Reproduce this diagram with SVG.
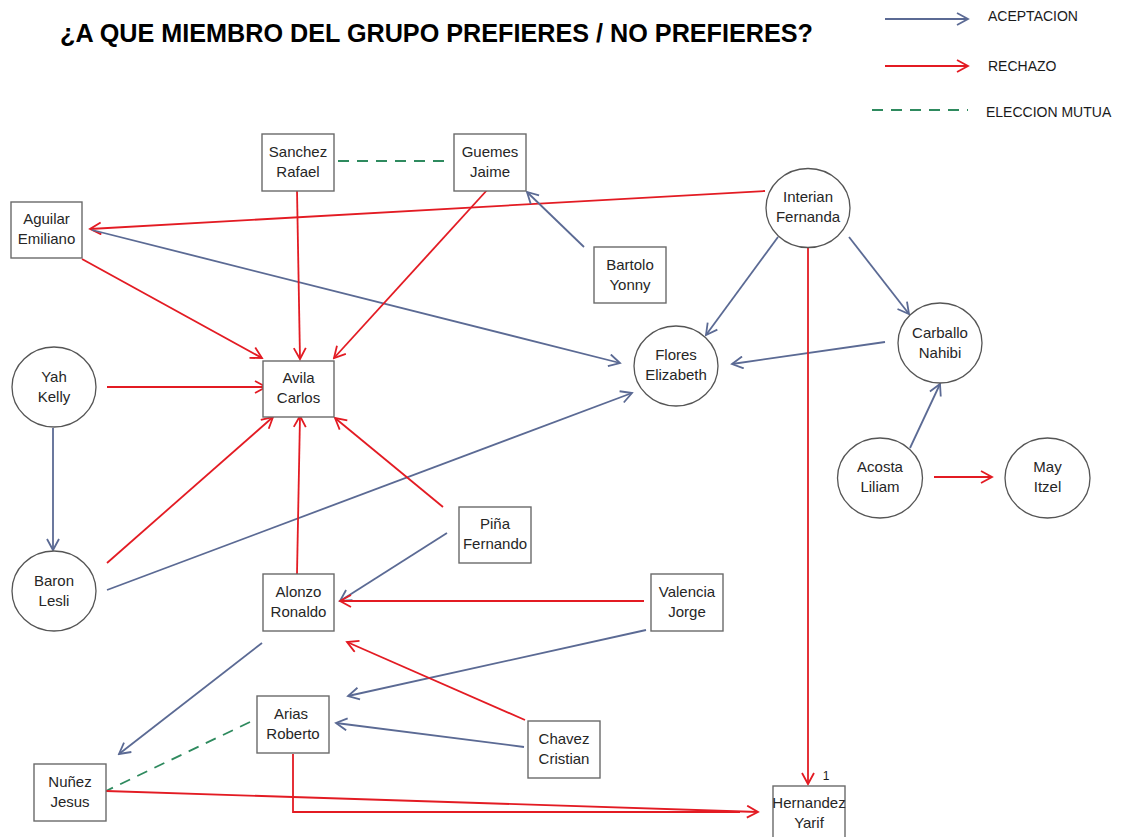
<svg xmlns="http://www.w3.org/2000/svg" width="1122" height="837" viewBox="0 0 1122 837">
<style>
  .box{fill:#fff;stroke:#6a6a6a;stroke-width:1.4}
  .cir{fill:#fff;stroke:#555;stroke-width:1.3}
  .lbl{font-family:"Liberation Sans",Arial,sans-serif;font-size:15px;fill:#262626;text-anchor:middle}
  .leg{font-family:"Liberation Sans",Arial,sans-serif;font-size:14px;fill:#1a1a1a}
  .title{font-family:"Liberation Sans",Arial,sans-serif;font-size:25px;font-weight:bold;fill:#000}
  .acc{stroke:#5b6a94;stroke-width:1.8;fill:none;marker-end:url(#ab)}
  .rej{stroke:#e31b23;stroke-width:1.8;fill:none;marker-end:url(#ar)}
  .rejn{stroke:#e31b23;stroke-width:1.8;fill:none}
  .mut{stroke:#2e8a5e;stroke-width:1.8;fill:none;stroke-dasharray:11 8}
</style>
<defs>
  <marker id="ab" markerUnits="userSpaceOnUse" markerWidth="14" markerHeight="14" refX="12" refY="7" orient="auto">
    <path d="M1,1 L12,7 L1,13" fill="none" stroke="#5b6a94" stroke-width="1.8"/>
  </marker>
  <marker id="ar" markerUnits="userSpaceOnUse" markerWidth="14" markerHeight="14" refX="12" refY="7" orient="auto">
    <path d="M1,1 L12,7 L1,13" fill="none" stroke="#e31b23" stroke-width="1.8"/>
  </marker>
</defs>
<rect width="1122" height="837" fill="#fff"/>

<text class="title" x="60" y="42" textLength="753" lengthAdjust="spacingAndGlyphs">¿A QUE MIEMBRO DEL GRUPO PREFIERES / NO PREFIERES?</text>

<g id="legend">
  <line class="acc" x1="885" y1="19" x2="968" y2="19"/>
  <text class="leg" x="988" y="21">ACEPTACION</text>
  <line class="rej" x1="885" y1="66" x2="968" y2="66"/>
  <text class="leg" x="988" y="71">RECHAZO</text>
  <line class="mut" x1="872" y1="110" x2="968" y2="110"/>
  <text class="leg" x="986" y="117">ELECCION MUTUA</text>
</g>

<g id="connectors">
  <line class="mut" x1="338" y1="161" x2="447" y2="161"/>
  <line class="rej" x1="765" y1="191" x2="90" y2="229"/>
  <line class="acc" x1="92" y1="230" x2="620" y2="363"/>
  <line class="rej" x1="297" y1="190" x2="300" y2="359"/>
  <line class="rej" x1="488" y1="189" x2="334" y2="358"/>
  <line class="rej" x1="82" y1="259" x2="262" y2="358"/>
  <line class="acc" x1="584" y1="247" x2="527" y2="192"/>
  <line class="acc" x1="778" y1="237" x2="706" y2="335"/>
  <line class="acc" x1="849" y1="237" x2="909" y2="314"/>
  <line class="acc" x1="885" y1="342" x2="732" y2="364"/>
  <line class="rej" x1="808" y1="248" x2="808" y2="784"/>
  <line class="acc" x1="910" y1="448" x2="940" y2="384"/>
  <line class="rej" x1="934" y1="477" x2="992" y2="477"/>
  <line class="rej" x1="107" y1="387" x2="266" y2="387"/>
  <line class="acc" x1="53" y1="428" x2="53" y2="550"/>
  <line class="rej" x1="107" y1="563" x2="273" y2="417"/>
  <line class="acc" x1="107" y1="590" x2="632" y2="393"/>
  <line class="rej" x1="297" y1="574" x2="300" y2="416"/>
  <line class="rej" x1="443" y1="507" x2="335" y2="418"/>
  <line class="acc" x1="447" y1="533" x2="340" y2="601"/>
  <line class="rej" x1="644" y1="601" x2="340" y2="601"/>
  <line class="acc" x1="646" y1="630" x2="348" y2="696"/>
  <line class="rej" x1="525" y1="720" x2="347" y2="642"/>
  <line class="acc" x1="524" y1="747" x2="336" y2="723"/>
  <line class="acc" x1="262" y1="643" x2="119" y2="754"/>
  <line class="mut" x1="250" y1="722" x2="106" y2="791"/>
  <polyline class="rejn" points="293,754 293,812 740,812"/>
  <line class="rej" x1="106" y1="791" x2="758" y2="812"/>
  <text class="leg" x="826" y="780" text-anchor="middle" style="font-size:12px">1</text>
</g>

<g id="n-sanchez"><rect class="box" x="262" y="134" width="72" height="57"/><text class="lbl" x="298" y="157">Sanchez</text><text class="lbl" x="298" y="177">Rafael</text></g>
<g id="n-guemes"><rect class="box" x="454" y="134" width="72" height="57"/><text class="lbl" x="490" y="157">Guemes</text><text class="lbl" x="490" y="177">Jaime</text></g>
<g id="n-bartolo"><rect class="box" x="594" y="247" width="72" height="56"/><text class="lbl" x="630" y="270">Bartolo</text><text class="lbl" x="630" y="290">Yonny</text></g>
<g id="n-aguilar"><rect class="box" x="11" y="202" width="71" height="56"/><text class="lbl" x="46.5" y="224">Aguilar</text><text class="lbl" x="46.5" y="244">Emiliano</text></g>
<g id="n-avila"><rect class="box" x="263" y="361" width="71" height="56"/><text class="lbl" x="298.5" y="383">Avila</text><text class="lbl" x="298.5" y="403">Carlos</text></g>
<g id="n-yah"><ellipse class="cir" cx="54" cy="387" rx="42" ry="40"/><text class="lbl" x="54" y="382">Yah</text><text class="lbl" x="54" y="402">Kelly</text></g>
<g id="n-baron"><ellipse class="cir" cx="54" cy="591" rx="42" ry="40"/><text class="lbl" x="54" y="586">Baron</text><text class="lbl" x="54" y="606">Lesli</text></g>
<g id="n-alonzo"><rect class="box" x="263" y="574" width="71" height="57"/><text class="lbl" x="298.5" y="597">Alonzo</text><text class="lbl" x="298.5" y="617">Ronaldo</text></g>
<g id="n-pina"><rect class="box" x="459" y="507" width="72" height="56"/><text class="lbl" x="495" y="529">Piña</text><text class="lbl" x="495" y="549">Fernando</text></g>
<g id="n-valencia"><rect class="box" x="651" y="574" width="72" height="57"/><text class="lbl" x="687" y="597">Valencia</text><text class="lbl" x="687" y="617">Jorge</text></g>
<g id="n-arias"><rect class="box" x="257" y="696" width="72" height="57"/><text class="lbl" x="291" y="719">Arias</text><text class="lbl" x="293" y="739">Roberto</text></g>
<g id="n-chavez"><rect class="box" x="528" y="721" width="72" height="57"/><text class="lbl" x="564" y="744">Chavez</text><text class="lbl" x="564" y="764">Cristian</text></g>
<g id="n-nunez"><rect class="box" x="34" y="764" width="72" height="57"/><text class="lbl" x="70" y="787">Nuñez</text><text class="lbl" x="70" y="807">Jesus</text></g>
<g id="n-hernandez"><rect class="box" x="773" y="786" width="72" height="57"/><text class="lbl" x="809" y="808">Hernandez</text><text class="lbl" x="809" y="828">Yarif</text></g>
<g id="n-interian"><ellipse class="cir" cx="808" cy="208" rx="42" ry="39.5"/><text class="lbl" x="808" y="202">Interian</text><text class="lbl" x="808" y="222">Fernanda</text></g>
<g id="n-flores"><ellipse class="cir" cx="676" cy="366" rx="42" ry="40"/><text class="lbl" x="676" y="360">Flores</text><text class="lbl" x="676" y="380">Elizabeth</text></g>
<g id="n-carballo"><ellipse class="cir" cx="940" cy="343" rx="42" ry="40"/><text class="lbl" x="940" y="338">Carballo</text><text class="lbl" x="940" y="358">Nahibi</text></g>
<g id="n-acosta"><ellipse class="cir" cx="880" cy="478" rx="42.5" ry="40"/><text class="lbl" x="880" y="472">Acosta</text><text class="lbl" x="880" y="492">Liliam</text></g>
<g id="n-may"><ellipse class="cir" cx="1047.5" cy="478" rx="42.5" ry="40"/><text class="lbl" x="1047.5" y="472">May</text><text class="lbl" x="1047.5" y="492">Itzel</text></g>
</svg>
